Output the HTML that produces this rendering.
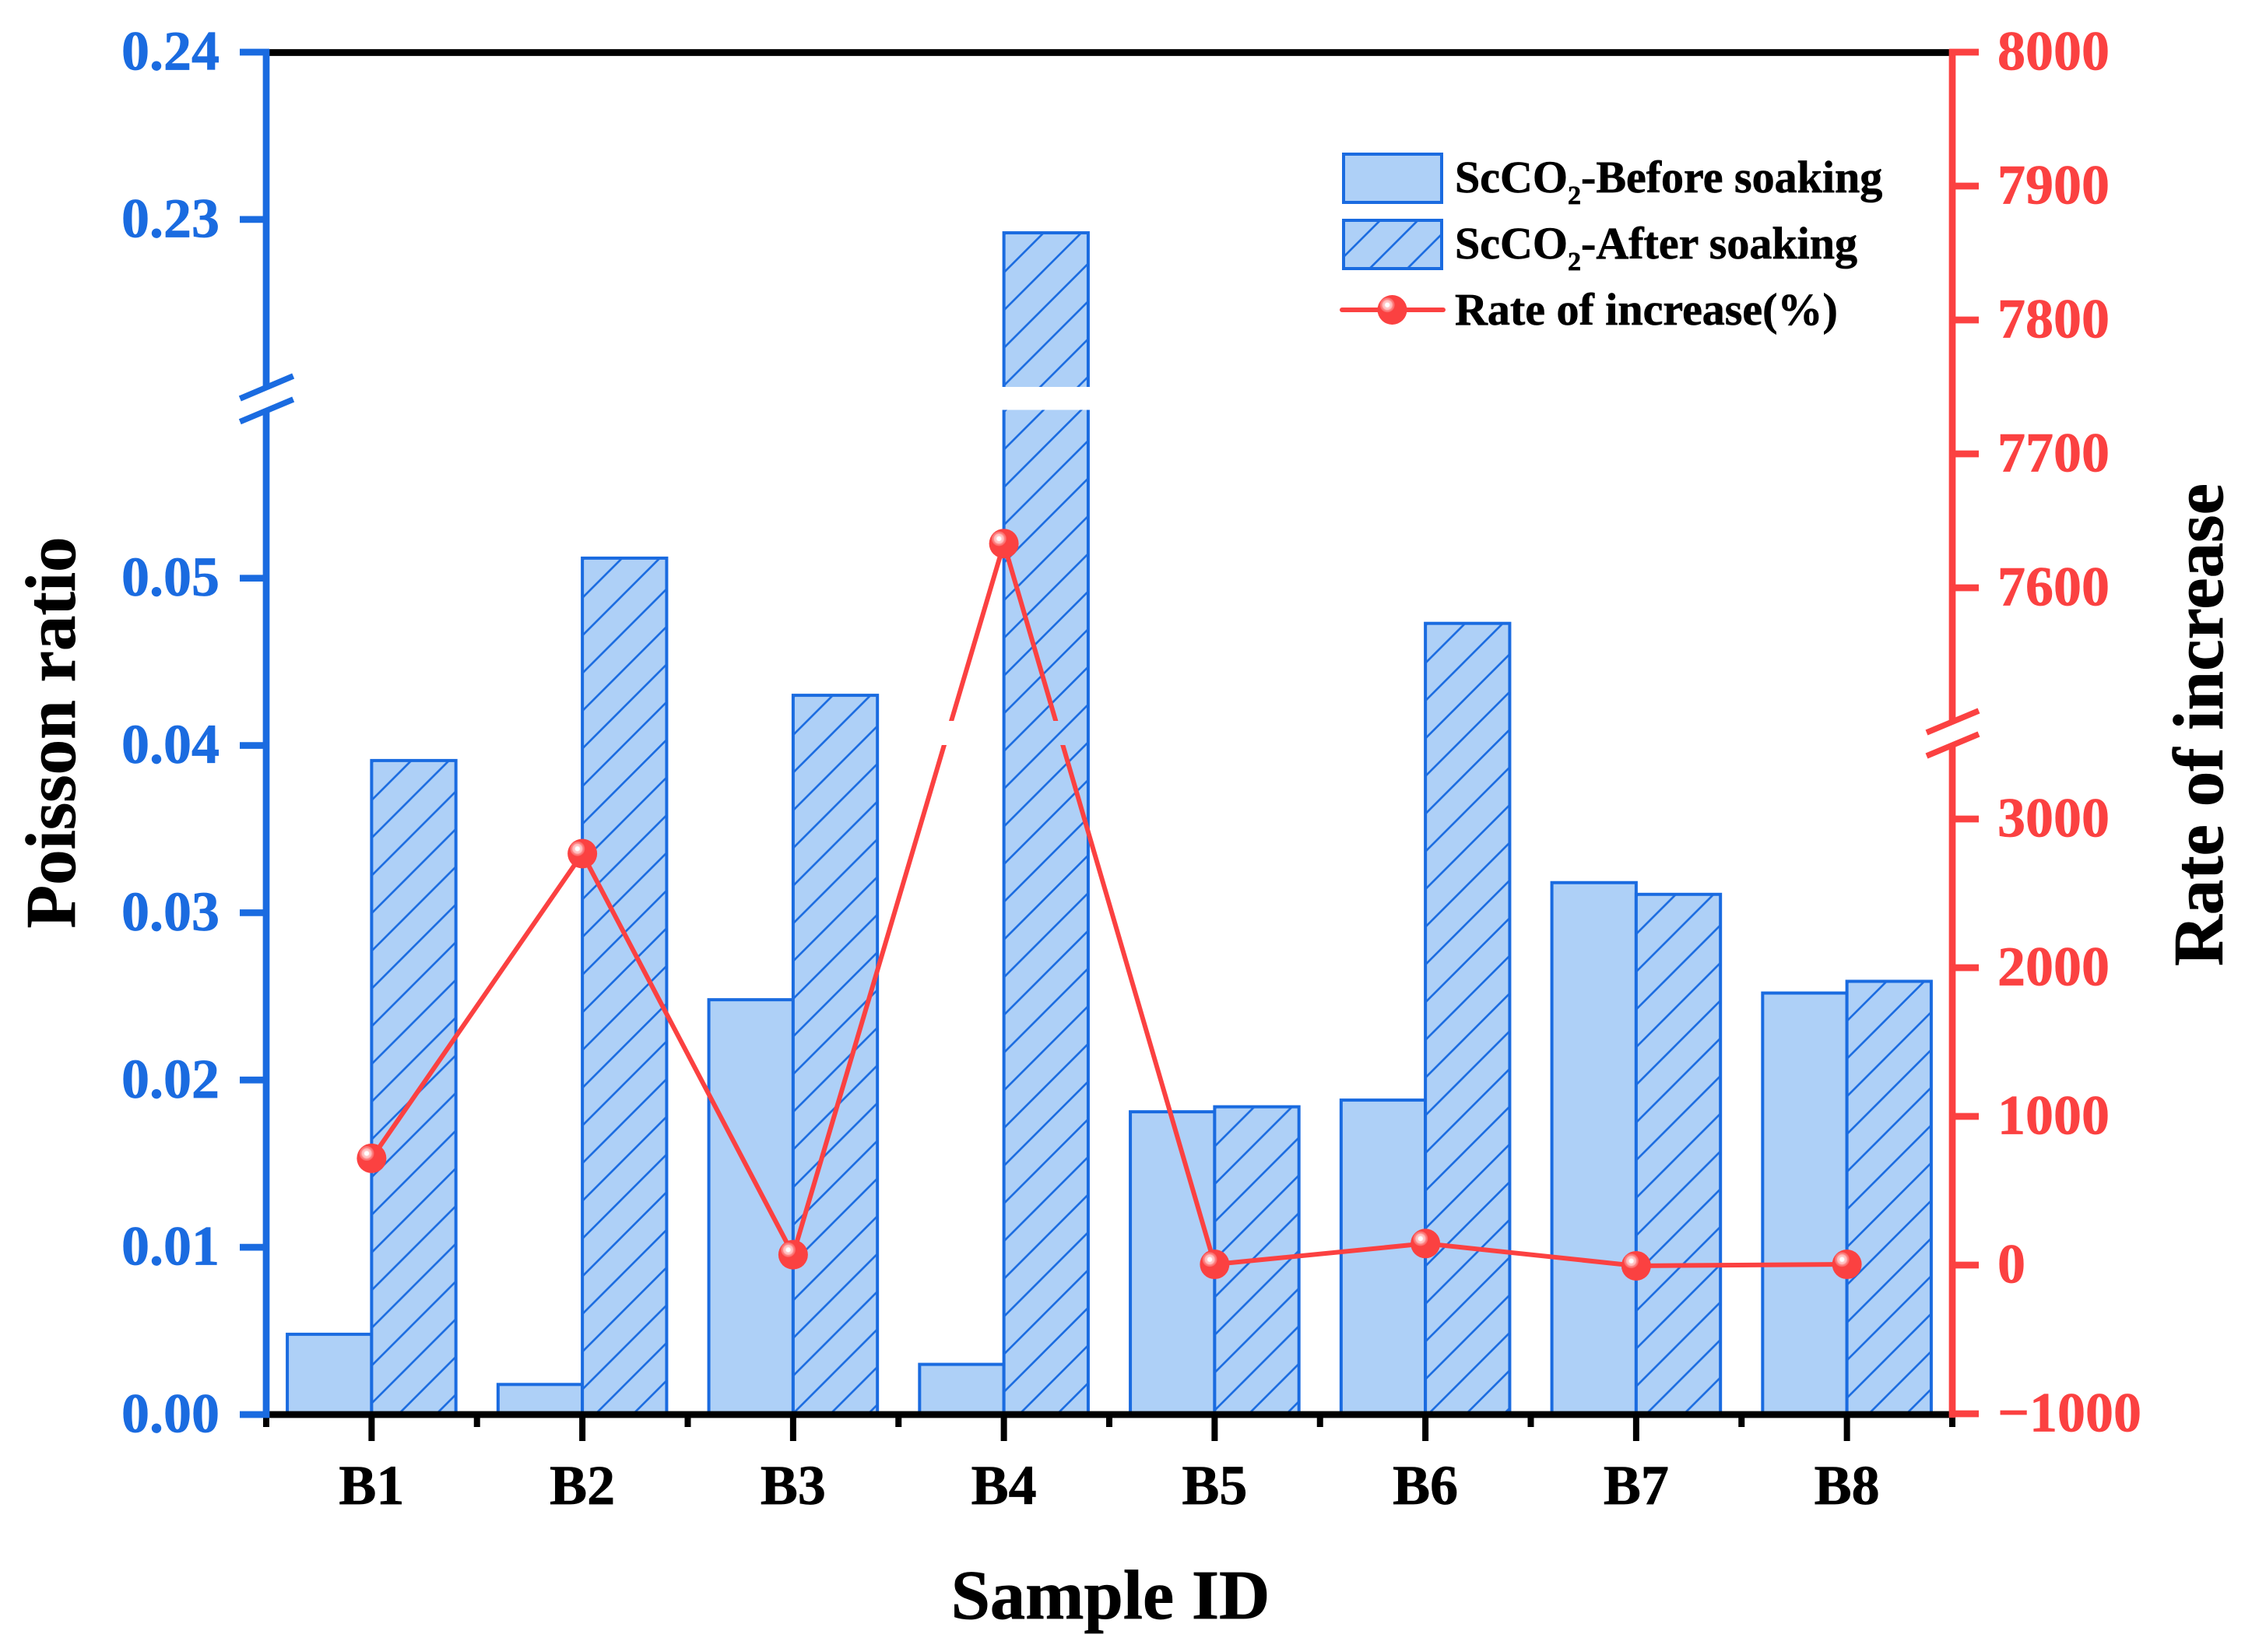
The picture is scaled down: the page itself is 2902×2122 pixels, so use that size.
<!DOCTYPE html>
<html lang="en">
<head>
<meta charset="utf-8">
<title>Poisson ratio chart</title>
<style>
html,body{margin:0;padding:0;background:#fff;}
svg{display:block;}
text{font-family:"Liberation Serif",serif;font-weight:bold;stroke:#000;stroke-width:0.7px;}
text.tb{stroke:#1a6be0;}
text.tr{stroke:#fb4141;}
</style>
</head>
<body>
<svg id="chart" xmlns="http://www.w3.org/2000/svg" width="2902" height="2122" viewBox="0 0 2902 2122">
<defs id="defs">
<pattern id="hatch-legend" patternUnits="userSpaceOnUse" width="48.42" height="48.42" patternTransform="translate(1724 281)">
<rect width="48.42" height="48.42" fill="#aed0f7"/>
<line x1="-2" y1="4.6" x2="4.6" y2="-2" stroke="#1a6be0" stroke-width="2.6"/>
<line x1="0.6" y1="50.42" x2="50.42" y2="0.6" stroke="#1a6be0" stroke-width="2.6"/>
</pattern>
<radialGradient id="shine">
<stop offset="0" stop-color="#ffffff"/>
<stop offset="0.28" stop-color="#ffffff"/>
<stop offset="0.35" stop-color="#ffd0d0"/>
<stop offset="0.65" stop-color="#ffb4b4"/>
<stop offset="0.72" stop-color="#fd8a8a"/>
<stop offset="1" stop-color="#fb6060"/>
</radialGradient>
<clipPath id="bar-gap"><rect x="300" y="0" width="2300" height="497"/><rect x="300" y="526.5" width="2300" height="1400"/></clipPath>
<clipPath id="line-gap"><rect x="300" y="0" width="2300" height="926"/><rect x="300" y="957" width="2300" height="1000"/></clipPath>
</defs>
<rect width="2902" height="2122" fill="#ffffff"/>
<g id="bars" clip-path="url(#bar-gap)"></g>
<g id="axes"></g>
<g id="series"></g>
<g id="legend">
<rect x="1726" y="198" width="126" height="62" fill="#aed0f7" stroke="#1a6be0" stroke-width="4"/>
<text x="1869" y="247" font-size="58" fill="#000">ScCO<tspan font-size="34" dy="15">2</tspan><tspan dy="-15">-Before soaking</tspan></text>
<rect x="1726" y="283" width="126" height="62" fill="url(#hatch-legend)" stroke="#1a6be0" stroke-width="4"/>
<text x="1869" y="332" font-size="58" fill="#000">ScCO<tspan font-size="34" dy="15">2</tspan><tspan dy="-15">-After soaking</tspan></text>
<line x1="1724" y1="398" x2="1854" y2="398" stroke="#fb4141" stroke-width="6" stroke-linecap="round"/>
<circle cx="1788.5" cy="398" r="19" fill="#fb4141"/>
<circle cx="1782.2" cy="391.7" r="9.5" fill="url(#shine)"/>
<text x="1869" y="417" font-size="58" fill="#000">Rate of increase(%)</text>
</g>
<text x="1426.5" y="2079" font-size="90.5" text-anchor="middle" fill="#000">Sample ID</text>
<text transform="translate(96 941) rotate(-90)" font-size="91" text-anchor="middle" fill="#000">Poisson ratio</text>
<text transform="translate(2855 931) rotate(-90)" font-size="91" text-anchor="middle" fill="#000">Rate of increase</text>
</svg>
<script>
const categories = ['B1','B2','B3','B4','B5','B6','B7','B8'];
const beforeSoaking = [0.0048,0.0018,0.0248,0.0030,0.0181,0.0188,0.0318,0.0252];
const afterSoaking = [0.0391,0.0512,0.0430,0.2292,0.0184,0.0473,0.0311,0.0259];
const rateOfIncrease = [718,2767,70,7633,5,145,-5,5];
const leftTicks = [0,0.01,0.02,0.03,0.04,0.05,0.23,0.24];
const rightTicks = [-1000,0,1000,2000,3000,7600,7700,7800,7900,8000];

const NS = 'http://www.w3.org/2000/svg';
const BLUE = '#1a6be0';
const RED = '#fb4141';
function mk(parent, tag, attrs, txt) {
  const e = document.createElementNS(NS, tag);
  for (const k in attrs) e.setAttribute(k, attrs[k]);
  if (txt !== undefined) e.textContent = txt;
  parent.appendChild(e);
  return e;
}
function xScale(c) { return 342 + (c - 0.5) * 270.75; }
function yLeft(v) { return v <= 0.06 ? 1817 - v * 21486 : 67 + (0.24 - v) * 21486; }
function yRight(v) { return v <= 3500 ? 1625 - v * 0.191 : 67 + (8000 - v) * 1.72; }

const defsEl = document.getElementById('defs');
const barsG = document.getElementById('bars');
const axesG = document.getElementById('axes');
const seriesG = document.getElementById('series');
const barW = 0.4 * 270.75;
const HATCH = 48.42;
let patternCount = 0;
function hatchAt(ox, oy) {
  const id = 'hatch-' + (patternCount++);
  const p = mk(defsEl, 'pattern', {id: id, patternUnits: 'userSpaceOnUse', width: HATCH, height: HATCH, patternTransform: 'translate(' + ox + ' ' + oy + ')'});
  mk(p, 'rect', {width: HATCH, height: HATCH, fill: '#aed0f7'});
  mk(p, 'line', {x1: -2, y1: 4.6, x2: 4.6, y2: -2, stroke: BLUE, 'stroke-width': 2.6});
  mk(p, 'line', {x1: 0.6, y1: HATCH + 2, x2: HATCH + 2, y2: 0.6, stroke: BLUE, 'stroke-width': 2.6});
  return 'url(#' + id + ')';
}
function hatchedRect(x, top, bottom, originY, name) {
  const r = mk(barsG, 'rect', {x: x, y: top, width: barW, height: bottom - top, fill: hatchAt(x, originY), stroke: BLUE, 'stroke-width': 4});
  
  
}

categories.forEach(function (cat, i) {
  const cx = xScale(i + 1);
  const yb = yLeft(beforeSoaking[i]);
  const b = mk(barsG, 'rect', {x: cx - barW, y: yb, width: barW, height: 1817 - yb, fill: '#aed0f7', stroke: BLUE, 'stroke-width': 4});
  
  
  const ya = yLeft(afterSoaking[i]);
  if (afterSoaking[i] > 0.06) {
    hatchedRect(cx, ya, 515, ya, 'bar-after-' + cat.toLowerCase() + '-upper');
    hatchedRect(cx, 510, 1817, 526.5, 'bar-after-' + cat.toLowerCase() + '-lower');
  } else {
    hatchedRect(cx, ya, 1817, ya, 'bar-after-' + cat.toLowerCase());
  }
});

function seg(x1, y1, x2, y2, color, w, name) {
  const l = mk(axesG, 'line', {x1: x1, y1: y1, x2: x2, y2: y2, stroke: color, 'stroke-width': w});
  
  
  return l;
}

seg(338, 67.5, 2512, 67.5, '#000', 8.7, 'top-axis-line');
seg(338, 1817, 2512, 1817, '#000', 8.7, 'x-axis-line');

for (let k = 0; k <= categories.length; k++) {
  const tx = 342 + k * 270.75;
  seg(tx, 1817, tx, 1833, '#000', 8, 'x-minor-tick');
}
categories.forEach(function (cat, i) {
  seg(xScale(i + 1), 1817, xScale(i + 1), 1851, '#000', 8, 'x-major-tick');
  const t = mk(axesG, 'text', {x: xScale(i + 1), y: 1932, 'font-size': 72, 'text-anchor': 'middle', fill: '#000'}, cat);
  
  
});

seg(342, 63, 342, 500, BLUE, 8.7, 'left-axis-upper');
seg(342, 528, 342, 1821, BLUE, 8.7, 'left-axis-lower');
seg(308.3, 512, 376.7, 483, BLUE, 7.5, 'left-axis-break-mark');
seg(308.3, 541.7, 376.7, 513, BLUE, 7.5, 'left-axis-break-mark');
leftTicks.forEach(function (v) {
  const y = yLeft(v);
  seg(308, y, 346, y, BLUE, 8.7, 'left-tick');
  const t = mk(axesG, 'text', {x: 282, y: y + 22.5, 'font-size': 72, 'text-anchor': 'end', fill: BLUE, 'class': 'tb'}, v.toFixed(2));
  
  
});

seg(2508, 63, 2508, 925, RED, 8.7, 'right-axis-upper');
seg(2508, 957, 2508, 1821, RED, 8.7, 'right-axis-lower');
seg(2475, 941, 2542, 913, RED, 7.5, 'right-axis-break-mark');
seg(2475, 971, 2542, 943, RED, 7.5, 'right-axis-break-mark');
rightTicks.forEach(function (v) {
  const y = yRight(v);
  seg(2504, y, 2542, y, RED, 8.7, 'right-tick');
  const t = mk(axesG, 'text', {x: 2566, y: y + 22.5, 'font-size': 72, 'text-anchor': 'start', fill: RED, 'class': 'tr'}, String(v).replace('-', '\u2212'));
  
  
});

const pts = rateOfIncrease.map(function (v, i) { return xScale(i + 1) + ',' + yRight(v); }).join(' ');
const rateLine = mk(seriesG, 'polyline', {points: pts, fill: 'none', stroke: RED, 'stroke-width': 6, 'clip-path': 'url(#line-gap)'});


rateOfIncrease.forEach(function (v, i) {
  const cx = xScale(i + 1), cy = yRight(v);
  const m = mk(seriesG, 'circle', {cx: cx, cy: cy, r: 19, fill: RED});
  
  
  const s = mk(seriesG, 'circle', {cx: cx - 6.3, cy: cy - 6.3, r: 9.5, fill: 'url(#shine)'});
  
  
});
</script>
</body>
</html>
